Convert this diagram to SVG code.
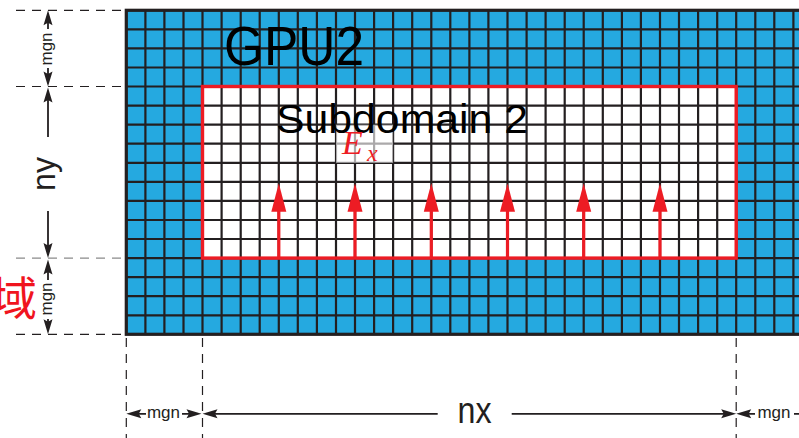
<svg xmlns="http://www.w3.org/2000/svg" width="799" height="438" viewBox="0 0 799 438">
<defs>
<style>
.grid{fill:none;stroke:#231f20;stroke-width:2.2}
.dash{fill:none;stroke:#231f20;stroke-width:1.2;stroke-dasharray:9 7}
.dim{fill:none;stroke:#231f20;stroke-width:1.8}
.dimtxt{font-family:"Liberation Sans",Arial,sans-serif;fill:#231f20}
.big{font-family:"Liberation Sans",Arial,sans-serif;fill:#000}
.ex{font-family:"Liberation Serif","Times New Roman",serif;font-style:italic;fill:#ed1c24}
.rarrow{stroke:#ed1c24;stroke-width:3.2;fill:none}
</style>
<path id="ah" d="M0,0 L15,-4.5 L12.5,0 L15,4.5 Z" fill="#231f20"/>
<path id="rh" d="M0,0 L-7.5,28.4 L7.5,28.4 Z" fill="#ed1c24"/>
</defs>

<g id="gpu2">
<rect x="126.3" y="10.3" width="700" height="324" fill="#25a9e0"/>
<rect id="subdomain-fill" x="202.5" y="86.5" width="533.7" height="171.6" fill="#ffffff"/>
<path class="grid" d="M145.4,10.3V334.3M164.4,10.3V334.3M183.5,10.3V334.3M202.5,10.3V334.3M221.6,10.3V334.3M240.7,10.3V334.3M259.7,10.3V334.3M278.8,10.3V334.3M297.8,10.3V334.3M316.9,10.3V334.3M336,10.3V334.3M355,10.3V334.3M374.1,10.3V334.3M393.1,10.3V334.3M412.2,10.3V334.3M431.3,10.3V334.3M450.3,10.3V334.3M469.4,10.3V334.3M488.4,10.3V334.3M507.5,10.3V334.3M526.6,10.3V334.3M545.6,10.3V334.3M564.7,10.3V334.3M583.7,10.3V334.3M602.8,10.3V334.3M621.9,10.3V334.3M640.9,10.3V334.3M660,10.3V334.3M679,10.3V334.3M698.1,10.3V334.3M717.2,10.3V334.3M736.2,10.3V334.3M755.3,10.3V334.3M774.3,10.3V334.3M793.4,10.3V334.3M126.3,29.4H799M126.3,48.4H799M126.3,67.5H799M126.3,86.5H799M126.3,105.6H799M126.3,124.7H799M126.3,143.7H799M126.3,162.8H799M126.3,181.8H799M126.3,200.9H799M126.3,220H799M126.3,239H799M126.3,258.1H799M126.3,277.1H799M126.3,296.2H799M126.3,315.3H799"/>
<rect x="126.3" y="10.3" width="700" height="324" fill="none" stroke="#231f20" stroke-width="3.2"/>
<text class="big" x="224" y="65" font-size="56" textLength="140" lengthAdjust="spacingAndGlyphs">GPU2</text>
</g>

<g id="subdomain2">
<rect x="202.5" y="86.5" width="533.7" height="171.6" fill="none" stroke="#ed1c24" stroke-width="3.4"/>
<rect x="336" y="124.7" width="57.1" height="38.1" fill="#ffffff" fill-opacity="0.62"/>
<text class="big" x="276" y="132.7" font-size="41" textLength="252" lengthAdjust="spacingAndGlyphs">Subdomain 2</text>
<text class="ex" x="342" y="154" font-size="34">E</text>
<text class="ex" x="367" y="160.7" font-size="24">x</text>
</g>

<g id="field-arrows">
<path class="rarrow" d="M278.8,258.1V210M355,258.1V210M431.3,258.1V210M507.5,258.1V210M583.7,258.1V210M660,258.1V210"/>
<use href="#rh" x="278.8" y="183.3"/>
<use href="#rh" x="355" y="183.3"/>
<use href="#rh" x="431.3" y="183.3"/>
<use href="#rh" x="507.5" y="183.3"/>
<use href="#rh" x="583.7" y="183.3"/>
<use href="#rh" x="660" y="183.3"/>
</g>

<g id="region-label">
<text x="37" y="314.8" font-family="'Noto Sans CJK SC','Noto Sans',sans-serif" font-size="46" fill="#f0141e" text-anchor="end">域</text>
</g>

<g id="connectors">
<path class="dash" d="M16,10.3H126M16,86.5H126M16,334.3H126"/>
<path class="dash" style="stroke:#8a8a8a" d="M16,258.1H126"/>
<path class="dash" d="M126.3,338V438M202.5,338V438M736.2,338V438"/>
<path class="dim" d="M48,22V29M48,68V76M48,98V137M48,211V247M48,270V280M48,319V323"/>
<use href="#ah" transform="translate(48,10.3) rotate(90)"/>
<use href="#ah" transform="translate(48,86.5) rotate(-90)"/>
<use href="#ah" transform="translate(48,87.5) rotate(90)"/>
<use href="#ah" transform="translate(48,258.1) rotate(-90)"/>
<use href="#ah" transform="translate(48,259.5) rotate(90)"/>
<use href="#ah" transform="translate(48,334.3) rotate(-90)"/>
<path class="dim" d="M138,413.8H146M182,413.8H190M214,413.8H437.7M511.7,413.8H724.5M748,413.8H755M794,413.8H799"/>
<use href="#ah" transform="translate(126.3,413.8)"/>
<use href="#ah" transform="translate(201.5,413.8) rotate(180)"/>
<use href="#ah" transform="translate(202.5,413.8)"/>
<use href="#ah" transform="translate(736.2,413.8) rotate(180)"/>
<use href="#ah" transform="translate(736.2,413.8)"/>
</g>

<g id="dimension-labels">
<text class="dimtxt" transform="translate(52,49) rotate(-90)" font-size="17" text-anchor="middle">mgn</text>
<text class="dimtxt" transform="translate(55,174) rotate(-90)" font-size="34" text-anchor="middle" textLength="34" lengthAdjust="spacingAndGlyphs">ny</text>
<text class="dimtxt" transform="translate(52,299) rotate(-90)" font-size="17" text-anchor="middle">mgn</text>
<text class="dimtxt" x="163.5" y="417.8" font-size="17" text-anchor="middle">mgn</text>
<text class="dimtxt" x="474.5" y="422.5" font-size="37" text-anchor="middle" textLength="34" lengthAdjust="spacingAndGlyphs">nx</text>
<text class="dimtxt" x="774" y="417.8" font-size="17" text-anchor="middle">mgn</text>
</g>
</svg>
